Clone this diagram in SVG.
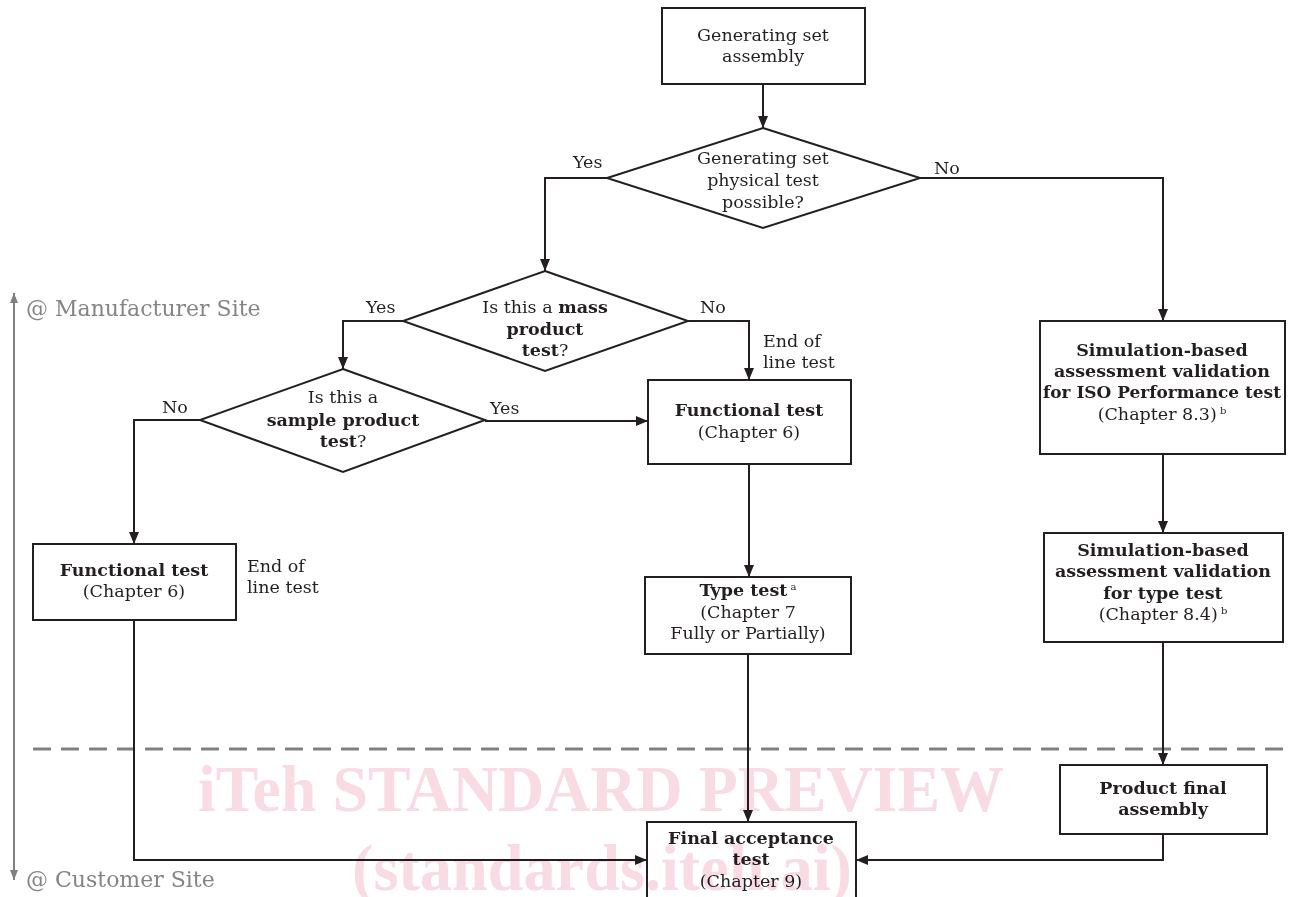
<svg xmlns="http://www.w3.org/2000/svg" width="1296" height="897" viewBox="0 0 1296 897">
<defs>
<style>
.box{fill:#fff;stroke:#231f20;stroke-width:2}
.ln{fill:none;stroke:#231f20;stroke-width:2}
text{font-family:"DejaVu Serif","Liberation Serif",serif;font-size:17.5px;fill:#231f20}
.c{text-anchor:middle}
.b{font-weight:bold}
.sup{font-size:10px}
.site{font-size:22px;fill:#858585}
.wm{font-family:"Liberation Serif",serif;font-weight:bold;font-size:66px;fill:#f8dbe3;text-anchor:middle}
#watermark{mix-blend-mode:multiply}
</style>
<marker id="ah" viewBox="0 0 12 10" refX="12" refY="5" markerWidth="12" markerHeight="10" markerUnits="userSpaceOnUse" orient="auto"><path d="M0,0 L12,5 L0,10 z" fill="#231f20"/></marker>
<marker id="ag" viewBox="0 0 10 8" refX="10" refY="4" markerWidth="10" markerHeight="8" markerUnits="userSpaceOnUse" orient="auto-start-reverse"><path d="M0,0 L10,4 L0,8 z" fill="#808080"/></marker>
</defs>
<rect width="1296" height="897" fill="#fff"/>

<g id="site-axis">
<line x1="14" y1="293" x2="14" y2="880" stroke="#808080" stroke-width="2" marker-start="url(#ag)" marker-end="url(#ag)"/>
<text class="site" x="26" y="316">@ Manufacturer Site</text>
<text class="site" x="26" y="887">@ Customer Site</text>
<line x1="33" y1="749" x2="1285" y2="749" stroke="#808080" stroke-width="3" stroke-dasharray="18 10"/>
</g>

<g id="connectors">
<line class="ln" x1="763" y1="84" x2="763" y2="128" marker-end="url(#ah)"/>
<polyline class="ln" points="607,178 545,178 545,271" marker-end="url(#ah)"/>
<polyline class="ln" points="920,178 1163,178 1163,321" marker-end="url(#ah)"/>
<polyline class="ln" points="403,321 343,321 343,369" marker-end="url(#ah)"/>
<polyline class="ln" points="688,321 749,321 749,380" marker-end="url(#ah)"/>
<polyline class="ln" points="200,420 134,420 134,544" marker-end="url(#ah)"/>
<line class="ln" x1="485" y1="421" x2="648" y2="421" marker-end="url(#ah)"/>
<line class="ln" x1="749" y1="464" x2="749" y2="577" marker-end="url(#ah)"/>
<line class="ln" x1="748" y1="654" x2="748" y2="822" marker-end="url(#ah)"/>
<polyline class="ln" points="134,620 134,860 647,860" marker-end="url(#ah)"/>
<line class="ln" x1="1163" y1="454" x2="1163" y2="533" marker-end="url(#ah)"/>
<line class="ln" x1="1163" y1="642" x2="1163" y2="765" marker-end="url(#ah)"/>
<polyline class="ln" points="1163,834 1163,860 856,860" marker-end="url(#ah)"/>
<text x="573" y="168">Yes</text>
<text x="934" y="174">No</text>
<text x="366" y="313">Yes</text>
<text x="700" y="313">No</text>
<text x="763" y="347">End of</text>
<text x="763" y="368">line test</text>
<text x="162" y="413">No</text>
<text x="490" y="414">Yes</text>
<text x="247" y="572">End of</text>
<text x="247" y="593">line test</text>
</g>

<g id="n-assembly">
<rect class="box" x="662" y="8" width="203" height="76"/>
<text class="c" x="763" y="41">Generating set</text>
<text class="c" x="763" y="62">assembly</text>
</g>

<g id="d-physical">
<polygon class="box" points="763,128 920,178 763,228 607,178"/>
<text class="c" x="763" y="164">Generating set</text>
<text class="c" x="763" y="186">physical test</text>
<text class="c" x="763" y="208">possible?</text>
</g>

<g id="d-mass">
<polygon class="box" points="545,271 688,321 545,371 403,321"/>
<text class="c" x="545" y="313">Is this a <tspan class="b">mass</tspan></text>
<text class="c b" x="545" y="335">product</text>
<text class="c" x="545" y="356"><tspan class="b">test</tspan>?</text>
</g>

<g id="d-sample">
<polygon class="box" points="343,369 485,420 343,472 200,420"/>
<text class="c" x="343" y="403">Is this a</text>
<text class="c b" x="343" y="426">sample product</text>
<text class="c" x="343" y="447"><tspan class="b">test</tspan>?</text>
</g>

<g id="n-func1">
<rect class="box" x="648" y="380" width="203" height="84"/>
<text class="c b" x="749" y="416">Functional test</text>
<text class="c" x="749" y="438">(Chapter 6)</text>
</g>

<g id="n-func2">
<rect class="box" x="33" y="544" width="203" height="76"/>
<text class="c b" x="134" y="576">Functional test</text>
<text class="c" x="134" y="597">(Chapter 6)</text>
</g>

<g id="n-type">
<rect class="box" x="645" y="577" width="206" height="77"/>
<text class="c" x="748" y="596"><tspan class="b">Type test</tspan><tspan class="sup" dy="-6"> a</tspan></text>
<text class="c" x="748" y="618">(Chapter 7</text>
<text class="c" x="748" y="639">Fully or Partially)</text>
</g>

<g id="n-final">
<rect class="box" x="647" y="822" width="209" height="90"/>
<text class="c b" x="751" y="844">Final acceptance</text>
<text class="c b" x="751" y="865">test</text>
<text class="c" x="751" y="887">(Chapter 9)</text>
</g>

<g id="n-sim1">
<rect class="box" x="1040" y="321" width="245" height="133"/>
<text class="c b" x="1162" y="356">Simulation-based</text>
<text class="c b" x="1162" y="377">assessment validation</text>
<text class="c b" x="1162" y="398" textLength="238" lengthAdjust="spacingAndGlyphs">for ISO Performance test</text>
<text class="c" x="1162" y="420">(Chapter 8.3)<tspan class="sup" dy="-6"> b</tspan></text>
</g>

<g id="n-sim2">
<rect class="box" x="1044" y="533" width="239" height="109"/>
<text class="c b" x="1163" y="556">Simulation-based</text>
<text class="c b" x="1163" y="577">assessment validation</text>
<text class="c b" x="1163" y="599">for type test</text>
<text class="c" x="1163" y="620">(Chapter 8.4)<tspan class="sup" dy="-6"> b</tspan></text>
</g>

<g id="n-product">
<rect class="box" x="1060" y="765" width="207" height="69"/>
<text class="c b" x="1163" y="794">Product final</text>
<text class="c b" x="1163" y="815">assembly</text>
</g>

<g id="watermark">
<text class="wm" x="601" y="811" textLength="806" lengthAdjust="spacingAndGlyphs">iTeh STANDARD PREVIEW</text>
<text class="wm" x="602" y="890" textLength="500" lengthAdjust="spacingAndGlyphs">(standards.iteh.ai)</text>
</g>
</svg>
